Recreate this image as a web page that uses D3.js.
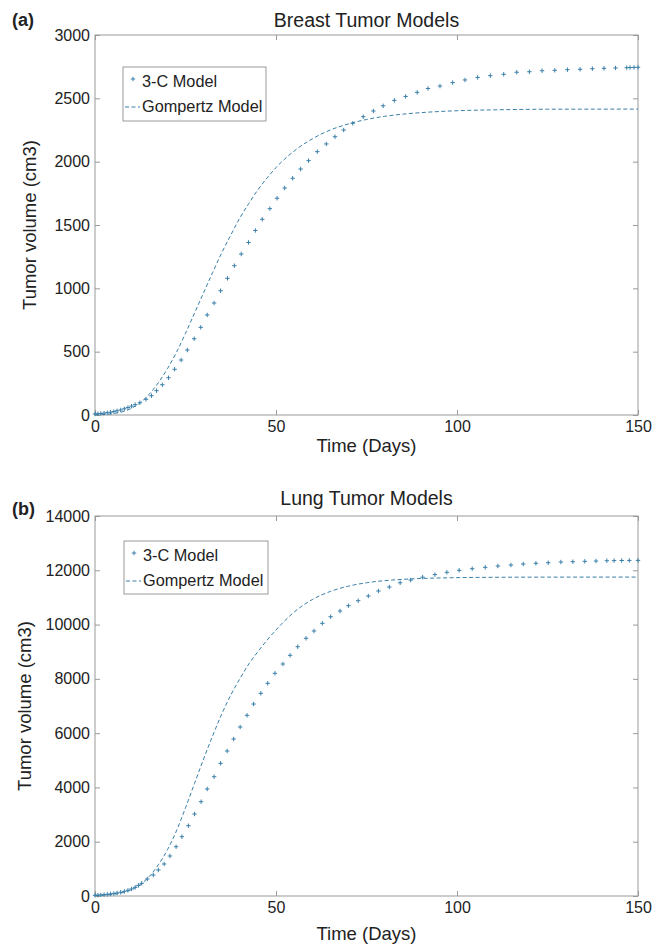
<!DOCTYPE html>
<html>
<head>
<meta charset="utf-8">
<script src="https://cdn.jsdelivr.net/npm/d3@7"></script>
<style>
  html, body { margin: 0; padding: 0; background: #fff; }
  svg { display: block; }
  text { font-family: "Liberation Sans", Arial, Helvetica, sans-serif; fill: #222; }
</style>
</head>
<body>
<svg id="chart" width="664" height="948"></svg>
<script>
// ---------------- DATA ----------------
const panelLabels = ["(a)", "(b)"];
const panelTitles = ["Breast Tumor Models", "Lung Tumor Models"];
const xLabel = "Time (Days)";
const yLabel = "Tumor volume (cm3)";
const legendNames = ["3-C Model", "Gompertz Model"];

const xTicks = [0, 50, 100, 150];
const yTicksA = [0, 500, 1000, 1500, 2000, 2500, 3000];
const yTicksB = [0, 2000, 4000, 6000, 8000, 10000, 12000, 14000];

// Breast: 3-C model (solver time points)
const daysA3C = [0,0.8,1.6,2.5,3.4,4.3,5.2,6.1,7.1,8.1,9.1,10.1,11.1,12.4,14.1,15.6,17.0,18.6,20.3,22.0,
  23.8,25.5,27.4,29.2,31.0,32.9,34.7,36.6,38.5,40.4,42.4,44.3,46.2,48.3,50.3,52.4,54.6,56.8,59.0,61.4,
  63.9,66.3,68.7,71.2,74.1,76.9,79.6,82.7,85.8,89.0,92.0,95.3,98.8,102.2,105.7,109.2,112.9,116.5,120.0,123.5,
  127.0,130.5,134.0,137.4,140.6,143.8,146.9,147.8,148.9,150];
const volA3C = [8,10,12,15,18,22,27,33,40,49,59,70,82,97,124,152,192,239,294,361,
  434,513,602,692,790,884,981,1079,1179,1271,1362,1457,1545,1629,1711,1792,1869,1942,2008,2079,
  2140,2197,2250,2303,2355,2400,2441,2484,2515,2547,2578,2597,2624,2645,2665,2679,2690,2706,2710,2718,
  2721,2726,2729,2734,2737,2740,2742,2743,2744,2745];

// Lung: 3-C model
const daysB3C = [0,0.8,1.6,2.5,3.4,4.3,5.2,6.1,7.1,8.1,9.1,10.1,11.1,12.0,12.9,14.45,16.1,17.5,19.1,20.7,
  22.4,24.0,25.8,27.5,29.3,31.0,32.9,34.7,36.5,38.3,40.1,42.0,43.8,45.8,47.7,49.7,51.9,53.9,56.0,58.3,
  60.5,62.8,65.1,67.7,70.0,72.7,75.5,78.3,81.3,84.3,87.2,90.5,93.9,97.2,100.6,104.2,107.8,111.3,114.9,118.3,
  121.8,125.2,128.7,132.0,135.3,138.4,141.4,143.4,145.5,147.6,150];
const volB3C = [25,32,40,50,62,76,92,112,138,170,210,260,320,390,468,626,774,958,1179,1474,
  1816,2185,2590,3021,3474,3942,4395,4889,5342,5784,6226,6657,7073,7467,7836,8204,8547,8867,9184,9494,
  9763,10046,10289,10499,10695,10879,11052,11236,11384,11540,11640,11745,11840,11925,11999,12058,12109,12157,12194,12231,
  12257,12279,12305,12316,12330,12341,12352,12356,12361,12363,12365];

// Gompertz model curves
const daysGomp = [0,2.5,5,7.5,10,12.5,15,17.5,20,22.5,25,27.5,30,32.5,35,37.5,40,42.5,45,47.5,
  50,55,60,65,70,75,80,85,90,100,110,125,150];
const volAGomp = [2,4,11,25,52,97,165,255,365,495,645,805,965,1125,1280,1420,1555,1670,1778,1870,
  1953,2084,2180,2250,2298,2333,2358,2375,2387,2402,2409,2414,2415];
const volBGomp = [15,30,60,120,230,420,720,1150,1700,2400,3250,4150,5050,5900,6700,7400,8000,8550,9000,9420,
  9800,10460,10920,11220,11415,11540,11618,11666,11697,11729,11742,11748,11750];

// ---------------- DRAWING ----------------
const svg = d3.select("#chart");
const COLOR = "#3a7fa8";
const AXIS = "#9a9a9a";
const FONT = "'Liberation Sans', Arial, sans-serif";

function drawPanel(p) {
  const x = d3.scaleLinear().domain([0, 150]).range([p.left, p.right]);
  const y = d3.scaleLinear().domain([0, p.ymax]).range([p.bottom, p.top]);
  const g = svg.append("g");

  // box
  g.append("rect").attr("x", p.left).attr("y", p.top)
    .attr("width", p.right - p.left).attr("height", p.bottom - p.top)
    .attr("fill", "none").attr("stroke", AXIS).attr("stroke-width", 1);

  const styleAxis = sel => {
    sel.select(".domain").remove();
    sel.selectAll(".tick line").attr("stroke", AXIS);
    sel.selectAll(".tick text").attr("fill", "#222")
      .style("font-family", FONT).style("font-size", "16px");
  };
  const fmt = d3.format("d");

  g.append("g").attr("transform", `translate(0,${p.bottom})`)
    .call(d3.axisBottom(x).tickValues(xTicks).tickFormat(fmt).tickSizeInner(-5).tickSizeOuter(0).tickPadding(6))
    .call(styleAxis);
  g.append("g").attr("transform", `translate(0,${p.top})`)
    .call(d3.axisTop(x).tickValues(xTicks).tickSizeInner(-5).tickSizeOuter(0).tickFormat(""))
    .call(styleAxis);
  g.append("g").attr("transform", `translate(${p.left},0)`)
    .call(d3.axisLeft(y).tickValues(p.yTicks).tickFormat(fmt).tickSizeInner(-5).tickSizeOuter(0).tickPadding(5))
    .call(styleAxis);
  g.append("g").attr("transform", `translate(${p.right},0)`)
    .call(d3.axisRight(y).tickValues(p.yTicks).tickSizeInner(-5).tickSizeOuter(0).tickFormat(""))
    .call(styleAxis);

  // Gompertz dashed line
  const gomp = p.gDays.map((d, i) => [d, p.gVals[i]]);
  g.append("path").datum(gomp)
    .attr("d", d3.line().x(d => x(d[0])).y(d => y(d[1])).curve(d3.curveMonotoneX))
    .attr("fill", "none").attr("stroke", COLOR).attr("stroke-width", 1)
    .attr("stroke-dasharray", "4,2.5");

  // 3-C model plus markers
  const pts = p.cDays.map((d, i) => [d, p.cVals[i]]);
  g.append("g").selectAll("path").data(pts).join("path")
    .attr("transform", d => `translate(${x(d[0])},${y(d[1])})`)
    .attr("d", "M-2.2,0H2.2M0,-2.2V2.2")
    .attr("stroke", COLOR).attr("stroke-width", 1).attr("fill", "none");

  // titles
  g.append("text").attr("x", (p.left + p.right) / 2).attr("y", p.titleY)
    .attr("text-anchor", "middle").style("font-size", "19.5px").text(p.title);
  g.append("text").attr("x", 12).attr("y", p.labelY)
    .style("font-size", "18px").style("font-weight", "bold").attr("fill", "#111").text(p.panel);
  g.append("text").attr("x", (p.left + p.right) / 2).attr("y", p.xLabelY)
    .attr("text-anchor", "middle").style("font-size", "18.5px").text(xLabel);
  g.append("text")
    .attr("transform", `translate(${p.yLabelX},${(p.top + p.bottom) / 2}) rotate(-90)`)
    .attr("text-anchor", "middle").style("font-size", "18.5px").text(yLabel);

  // legend
  const L = p.legend;
  g.append("rect").attr("x", L.x).attr("y", L.y).attr("width", L.w).attr("height", L.h)
    .attr("fill", "#fff").attr("stroke", AXIS).attr("stroke-width", 1);
  g.append("path").attr("transform", `translate(${L.x + 10},${L.y + 12})`)
    .attr("d", "M-2.2,0H2.2M0,-2.2V2.2").attr("stroke", COLOR).attr("stroke-width", 1);
  g.append("line").attr("x1", L.x + 2).attr("x2", L.x + 17)
    .attr("y1", L.y + 40).attr("y2", L.y + 40)
    .attr("stroke", COLOR).attr("stroke-width", 1).attr("stroke-dasharray", "4,2.5");
  g.append("text").attr("x", L.x + 19).attr("y", L.y + 20).style("font-size", "16.3px").text(legendNames[0]);
  g.append("text").attr("x", L.x + 19).attr("y", L.y + 45).style("font-size", "16.3px").text(legendNames[1]);
}

drawPanel({
  panel: panelLabels[0], title: panelTitles[0],
  left: 95, right: 638, top: 35, bottom: 415, ymax: 3000, yTicks: yTicksA,
  titleY: 27, labelY: 26, xLabelY: 452, yLabelX: 36,
  cDays: daysA3C, cVals: volA3C, gDays: daysGomp, gVals: volAGomp,
  legend: { x: 123, y: 67, w: 143, h: 54 }
});
drawPanel({
  panel: panelLabels[1], title: panelTitles[1],
  left: 95, right: 638, top: 516, bottom: 896, ymax: 14000, yTicks: yTicksB,
  titleY: 505, labelY: 515, xLabelY: 940, yLabelX: 31,
  cDays: daysB3C, cVals: volB3C, gDays: daysGomp, gVals: volBGomp,
  legend: { x: 124, y: 541, w: 144, h: 53 }
});
</script>
</body>
</html>
